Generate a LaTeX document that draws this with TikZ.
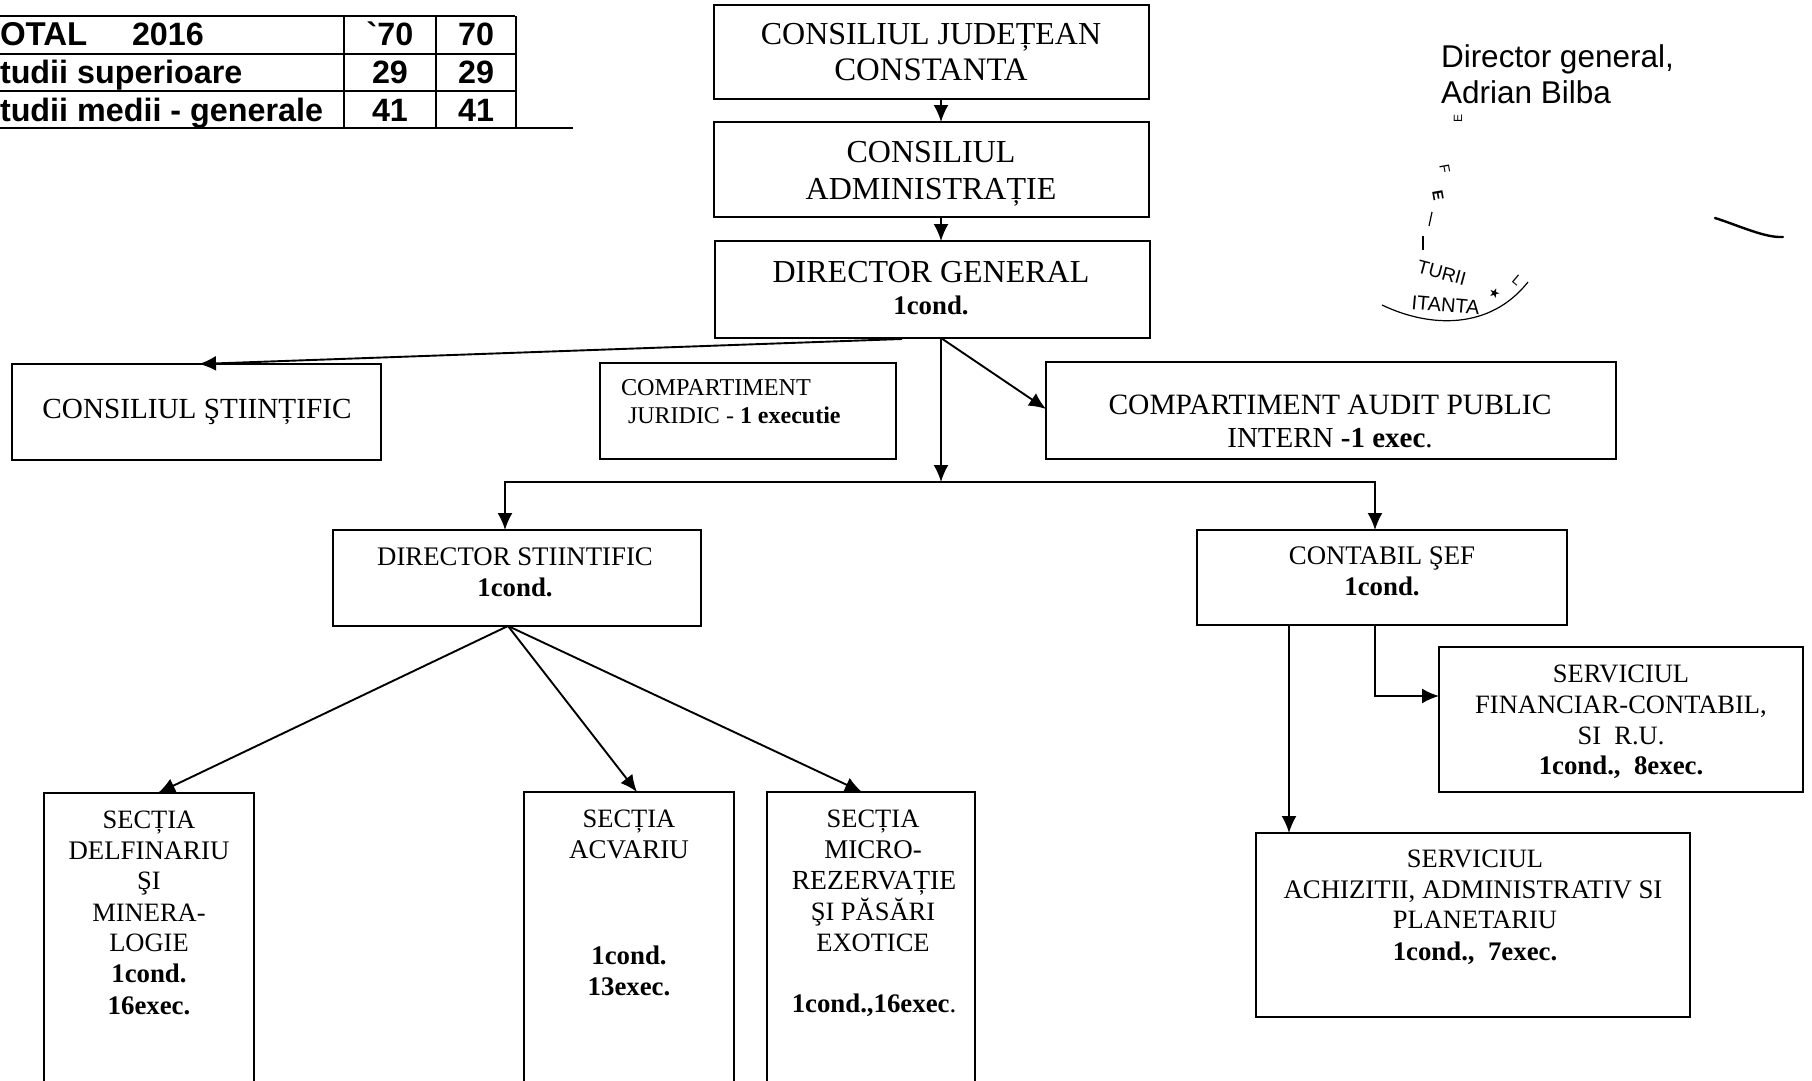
\documentclass[tikz,border=0pt]{standalone}
\usepackage{fontspec}
\setmainfont{Liberation Serif}
\newfontfamily\arialf{Liberation Sans}
\newfontfamily\dejavuf{DejaVu Sans}
\usetikzlibrary{arrows.meta}
\tikzset{
  boxn/.style={draw=black,line width=1.8pt,inner sep=0pt,outer sep=0pt,fill=none},
  lbl/.style={inner sep=0pt,outer sep=0pt,text=black,anchor=base},
  lbll/.style={lbl,anchor=base west},
  conn/.style={draw=black,line width=1.9pt},
  arr/.style={conn,-{Latex[length=17pt,width=15pt]}},
  tab/.style={draw=black,line width=2.6pt},
  stamp/.style={draw=black,line width=1.2pt},
}
\newcommand\bx[5]{\node[boxn,minimum width={(#4-#2)*1pt},minimum height={(#5-#3)*1pt}] (#1) at ({(#2+#4)/2},{(#3+#5)/2}) {};}
\newcommand\tx[5]{\node[lbl] (#1) at (#2,#3) {\fontsize{#4}{#4}\selectfont #5};}
\newcommand\tl[5]{\node[lbll] (#1) at (#2,#3) {\fontsize{#4}{#4}\selectfont #5};}
\newcommand\pt[3]{\coordinate (#1) at (#2,#3);}
\begin{document}
\begin{tikzpicture}[x=1pt,y=-1pt]
\useasboundingbox (0,0) rectangle (1812,1081);
% boxes
\bx{cj}{714}{5}{1149}{99}
\bx{ca}{714}{122}{1149}{217}
\bx{dg}{715}{241}{1150}{338}
\bx{cs}{12}{364}{381}{460}
\bx{cjur}{600}{363}{896}{459}
\bx{aud}{1046}{362}{1616}{459}
\bx{ds}{333}{530}{701}{626}
\bx{cb}{1197}{530}{1567}{625}
\bx{sf}{1439}{647}{1803}{792}
\bx{sa}{1256}{833}{1690}{1017}
\bx{sd}{44}{793}{254}{1082}
\bx{sv}{524}{792}{734}{1082}
\bx{sm}{767}{792}{975}{1082}
% text
\tx{t1}{931}{45}{32}{CONSILIUL JUDEȚEAN}
\tx{t2}{931}{81}{32.8}{CONSTANTA}
\tx{t3}{931}{162}{32}{CONSILIUL}
\tx{t4}{931}{199}{32}{ADMINISTRAȚIE}
\tx{t5}{931}{282}{32}{DIRECTOR GENERAL}
\tx{t6}{931}{314}{26.8}{\bfseries 1cond.}
\tx{t7}{197}{418}{29.2}{CONSILIUL ŞTIINȚIFIC}
\tl{t8}{621}{395}{24.2}{COMPARTIMENT}
\tl{t9}{628}{423}{24}{JURIDIC - \bfseries 1 executie}
\tx{t10}{1330}{414}{29.5}{COMPARTIMENT AUDIT PUBLIC}
\tx{t11}{1330}{447}{29}{INTERN \bfseries -1 exec\mdseries.}
\tx{t12}{515}{565}{26.8}{DIRECTOR STIINTIFIC}
\tx{t13}{515}{596}{26.8}{\bfseries 1cond.}
\tx{t14}{1382}{564}{26.8}{CONTABIL ŞEF}
\tx{t15}{1382}{595}{26.8}{\bfseries 1cond.}
\tx{t16}{1621}{682}{26.5}{SERVICIUL}
\tx{t17}{1621}{713}{26.5}{FINANCIAR-CONTABIL,}
\tx{t18}{1621}{744}{26.5}{SI\ \ R.U.}
\tx{t19}{1621}{774}{26.8}{\bfseries 1cond.,\ \ 8exec.}
\tx{t20}{1475}{867}{26.5}{SERVICIUL}
\tx{t21}{1473}{898}{26.8}{ACHIZITII, ADMINISTRATIV SI}
\tx{t22}{1475}{928}{26.5}{PLANETARIU}
\tx{t23}{1475}{960}{26.8}{\bfseries 1cond.,\ \ 7exec.}
\tx{t24}{149}{828}{26.5}{SECȚIA}
\tx{t25}{149}{859}{26.8}{DELFINARIU}
\tx{t26}{149}{889}{26.5}{ŞI}
\tx{t27}{149}{921}{26.5}{MINERA-}
\tx{t28}{149}{951}{26.5}{LOGIE}
\tx{t29}{149}{982}{26.8}{\bfseries 1cond.}
\tx{t30}{149}{1014}{26.8}{\bfseries 16exec.}
\tx{t31}{629}{827}{26.5}{SECȚIA}
\tx{t32}{629}{858}{27}{ACVARIU}
\tx{t33}{629}{964}{26.8}{\bfseries 1cond.}
\tx{t34}{629}{995}{26.8}{\bfseries 13exec.}
\tx{t35}{873}{827}{26.5}{SECȚIA}
\tx{t36}{873}{858}{27}{MICRO-}
\tx{t37}{874}{889}{27.6}{REZERVAȚIE}
\tx{t38}{873}{920}{26.5}{ŞI PĂSĂRI}
\tx{t39}{873}{951}{26.5}{EXOTICE}
\tx{t40}{874}{1012}{26.8}{\bfseries 1cond.,16exec\mdseries.}
% connector points
\pt{a1}{941}{99}\pt{a2}{941}{122}
\pt{a3}{941}{217}\pt{a4}{941}{241}
\pt{a5}{902}{339}\pt{a6}{199}{364}
\pt{a7}{941}{338}\pt{a8}{941}{482}
\pt{a9}{1046}{409}
\pt{b0}{505}{482}\pt{b1}{505}{530}
\pt{b2}{1375}{482}\pt{b3}{1375}{530}
\pt{c0}{508}{626}\pt{c1}{158}{793}\pt{c2}{637}{792}\pt{c3}{862}{792}
\pt{d0}{1289}{625}\pt{d1}{1289}{833}
\pt{d2}{1375}{625}\pt{d3}{1375}{696}\pt{d4}{1439}{696}
\draw[arr] (a1)--(a2);
\draw[arr] (a3)--(a4);
\draw[arr] (a5)--(a6);
\draw[arr] (a7)--(a8);
\draw[arr] (a7)--(a9);
\draw[arr] (b2)--(b0)--(b1);
\draw[arr] (b0)--(b2)--(b3);
\draw[arr] (c0)--(c1);
\draw[arr] (c0)--(c2);
\draw[arr] (c0)--(c3);
\draw[arr] (d0)--(d1);
\draw[arr] (d2)--(d3)--(d4);
% table
\pt{g0}{0}{16}\pt{g1}{515}{16}
\pt{g2}{0}{54}\pt{g3}{515}{54}
\pt{g4}{0}{91}\pt{g5}{515}{91}
\pt{g6}{0}{128}\pt{g7}{573}{128}
\pt{g8}{344}{16}\pt{g9}{344}{128}
\pt{g10}{436}{16}\pt{g11}{436}{128}
\pt{g12}{516}{16}\pt{g13}{516}{128}
\draw[tab] (g0)--(g1); \draw[tab] (g2)--(g3); \draw[tab] (g4)--(g5); \draw[tab] (g6)--(g7);
\draw[tab] (g8)--(g9); \draw[tab] (g10)--(g11); \draw[tab] (g12)--(g13);
\tl{u1}{0}{46}{33}{\arialf\bfseries OTAL}
\tl{u2}{132}{46}{32.3}{\arialf\bfseries 2016}
\tl{u3}{0}{84}{32.3}{\arialf\bfseries tudii superioare}
\tl{u4}{0}{121}{32.3}{\arialf\bfseries tudii medii - generale}
\tx{u5}{390}{46}{32.3}{\arialf\bfseries `70}
\tx{u6}{476}{46}{32.3}{\arialf\bfseries 70}
\tx{u7}{390}{84}{32.3}{\arialf\bfseries 29}
\tx{u8}{476}{84}{32.3}{\arialf\bfseries 29}
\tx{u9}{390}{121}{32.3}{\arialf\bfseries 41}
\tx{u10}{476}{121}{32.3}{\arialf\bfseries 41}
% signature
\tl{v1}{1441}{67}{31.5}{\arialf Director general,}
\tl{v2}{1441}{103}{31.5}{\arialf Adrian Bilba}
% stamp
\pt{s0}{1382}{305}\pt{s1}{1528}{282}\pt{s2}{1715}{218}\pt{s3}{1783}{237}
\draw[stamp] (s0) .. controls (1430,328) and (1490,330) .. (s1);
\draw[line width=2.4pt,line cap=round] (s2) .. controls (1740,226) and (1765,238) .. (s3);
\node[lbl,rotate=-15] (w1) at (1440,279) {\fontsize{19}{19}\selectfont\arialf TURII};
\node[lbl,rotate=-5] (w2) at (1445,312) {\fontsize{20}{20}\selectfont\arialf ITANTA};
\node[lbl,rotate=-20] (w3) at (1493,297) {\fontsize{13}{13}\selectfont\dejavuf ★};
\node[lbl,rotate=-40] (w4) at (1514,284) {\fontsize{14}{14}\selectfont\arialf L};
\node[lbl,rotate=90] (w5) at (1462,118) {\fontsize{12}{12}\selectfont\arialf E};
\node[lbl,rotate=-80] (w6) at (1440,170) {\fontsize{14}{14}\selectfont\arialf F};
\node[lbl,rotate=-80] (w7) at (1433,196) {\fontsize{15}{15}\selectfont\arialf\bfseries E};
\pt{w8}{1432}{212}\pt{w9}{1429}{226}\pt{w10}{1423}{236}\pt{w11}{1423}{250}
\draw[stamp] (w8)--(w9); \draw[stamp] (w10)--(w11);
\end{tikzpicture}
\end{document}
